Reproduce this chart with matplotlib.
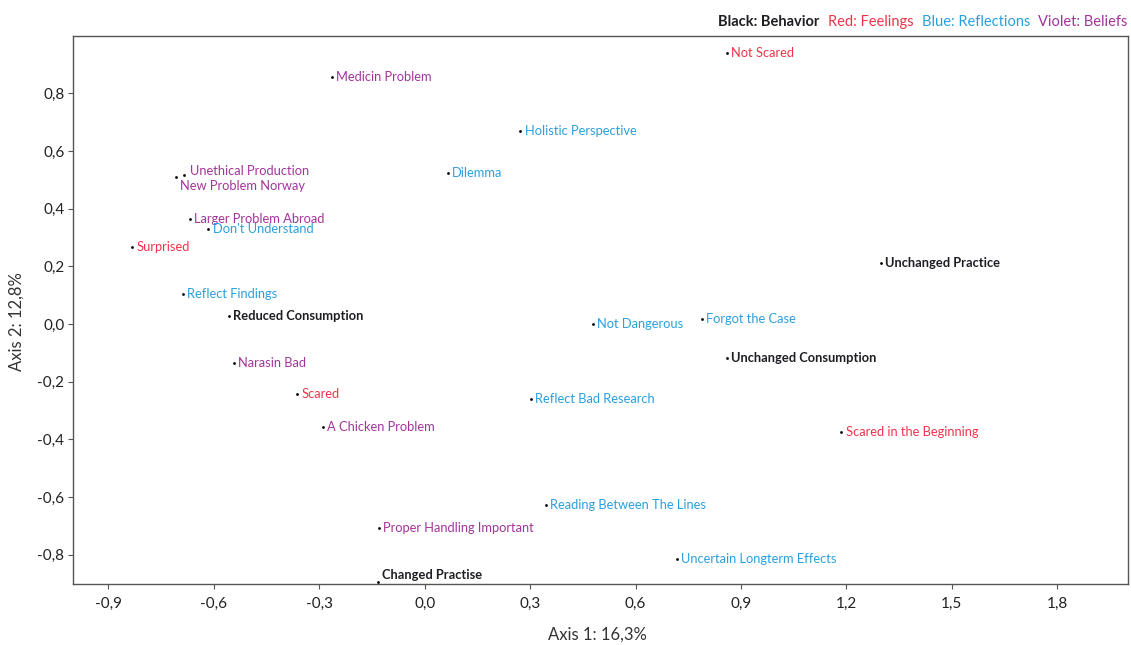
import matplotlib
matplotlib.use("Agg")
import matplotlib.pyplot as plt
from matplotlib.ticker import FuncFormatter, MultipleLocator
from matplotlib.offsetbox import TextArea, HPacker, AnnotationBbox

plt.rcParams['font.family'] = ['Lato', 'DejaVu Sans']

# correspondence analysis coordinates
labels = [
    "Not Scared", "Medicin Problem", "Holistic Perspective", "Dilemma",
    "Unethical Production", "New Problem Norway", "Larger Problem Abroad",
    "Don't Understand", "Surprised", "Reflect Findings", "Reduced Consumption",
    "Narasin Bad", "Scared", "A Chicken Problem", "Proper Handling Important",
    "Changed Practise", "Not Dangerous", "Forgot the Case", "Unchanged Practice",
    "Unchanged Consumption", "Reflect Bad Research", "Scared in the Beginning",
    "Reading Between The Lines", "Uncertain Longterm Effects",
]
axis1 = [0.859, -0.264, 0.272, 0.065, -0.684, -0.708, -0.668, -0.616, -0.832,
         -0.688, -0.557, -0.543, -0.364, -0.290, -0.130, -0.134, 0.478, 0.789,
         1.298, 0.859, 0.302, 1.185, 0.344, 0.717]
axis2 = [0.940, 0.858, 0.671, 0.525, 0.516, 0.511, 0.363, 0.329, 0.266,
         0.104, 0.028, -0.135, -0.243, -0.357, -0.707, -0.893, 0.000, 0.018,
         0.211, -0.119, -0.260, -0.373, -0.627, -0.814]
groups = ["F", "V", "R", "R", "V", "V", "V", "R", "F", "R", "B", "V", "F", "V",
          "V", "B", "R", "R", "B", "B", "R", "F", "R", "R"]

colors = {"B": "#1e1e24", "F": "#f0334a", "R": "#2b9fdc", "V": "#a3349a"}
# label offsets (points) where the label does not sit just right of the dot
offsets = {"New Problem Norway": (3, -7), "Unethical Production": (4, 3),
           "Changed Practise": (3, 4.5)}

fig = plt.figure(figsize=(11.31, 6.45), dpi=100)
ax = fig.add_axes([0.0648, 0.095, 0.9322, 0.8497])

ax.scatter(axis1, axis2, s=4, color="black", zorder=3, linewidths=0)
for lab, x, y, g in zip(labels, axis1, axis2, groups):
    dx, dy = offsets.get(lab, (3.2, 0))
    ax.annotate(lab, (x, y), xytext=(dx, dy), textcoords="offset points",
                va="center", ha="left", fontsize=9.3, color=colors[g],
                fontweight="bold" if g == "B" else "normal")

ax.set_xlim(-1.0, 2.0)
ax.set_ylim(-0.9, 1.0)
ax.xaxis.set_major_locator(MultipleLocator(0.3))
ax.yaxis.set_major_locator(MultipleLocator(0.2))
fmt = FuncFormatter(lambda v, p: f"{v:.1f}".replace(".", ",").replace("-0,0", "0,0"))
ax.xaxis.set_major_formatter(fmt)
ax.yaxis.set_major_formatter(fmt)
ax.set_xticks([v for v in ax.get_xticks() if -0.95 < v < 1.95])
ax.set_yticks([v for v in ax.get_yticks() if -0.85 < v < 0.95])
ax.tick_params(labelsize=11, colors="#555555", labelcolor="#222222", length=3.5)
ax.tick_params(axis="x", pad=6)
ax.tick_params(axis="y", pad=3)
for s in ax.spines.values():
    s.set_color("#555555")
    s.set_linewidth(1)

ax.set_xlabel("Axis 1: 16,3%", fontsize=12, color="#333333")
ax.set_ylabel("Axis 2: 12,8%", fontsize=12, color="#333333")
ax.xaxis.set_label_coords(0.497, -0.079)
ax.yaxis.set_label_coords(-0.046, 0.478)

parts = [("Black: Behavior", colors["B"], "bold"), ("Red: Feelings", colors["F"], "normal"),
         ("Blue: Reflections", colors["R"], "normal"), ("Violet: Beliefs", colors["V"], "normal")]
boxes = [TextArea(t, textprops=dict(color=c, fontsize=10.5, fontweight=w)) for t, c, w in parts]
pack = HPacker(children=boxes, pad=0, sep=6)
ab = AnnotationBbox(pack, (1.0, 1.0), xycoords="axes fraction", box_alignment=(1, 0),
                    xybox=(0, 5), boxcoords="offset points", frameon=False)
ax.add_artist(ab)

fig.savefig("out.png", dpi=100)
